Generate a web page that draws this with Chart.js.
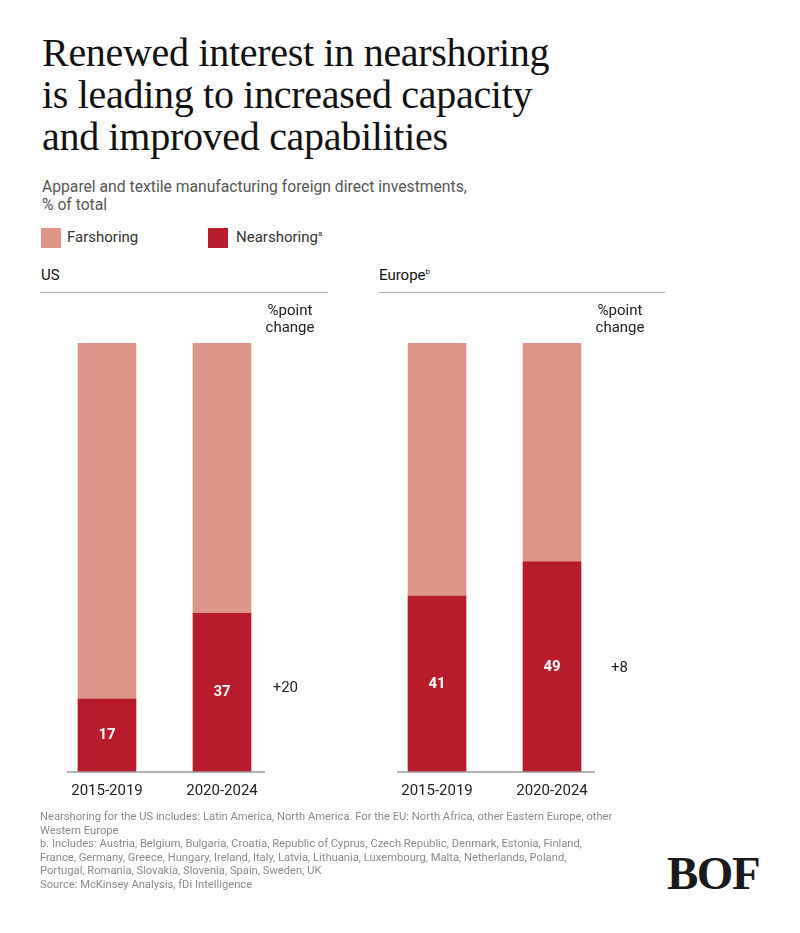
<!DOCTYPE html>
<html>
<head>
<meta charset="utf-8">
<script src="https://cdn.jsdelivr.net/npm/chart.js@4"></script>
<style>
  body { margin: 0; background: #fff; width: 800px; height: 933px; position: relative; overflow: hidden; font-family: Roboto, "Noto Sans", sans-serif; color: #222; }
  .abs { position: absolute; }
  h1 { position: absolute; left: 42px; top: 32px; margin: 0; font-family: "Liberation Serif", "DejaVu Serif", serif; font-weight: normal; font-size: 40px; line-height: 42px; color: #111; letter-spacing: -0.3px; }
  .sub { left: 42px; top: 178px; font-size: 15.7px; line-height: 18px; color: #555; }
  .sw { width: 20px; height: 20px; }
  .leg { font-size: 15px; color: #333; }
  .panel { font-size: 15px; color: #111; }
  .rule { height: 1px; background: #aaa; }
  sup { font-size: 8px; vertical-align: 6px; }
  .foot { left: 40px; top: 810px; font-size: 11.2px; line-height: 13.6px; color: #8a8a8a; white-space: nowrap; font-family: "Liberation Sans Narrow", Roboto, sans-serif; }
  .logo { left: 667px; top: 848px; font-family: "Liberation Serif", serif; font-weight: bold; font-size: 47px; line-height: 50px; color: #1a1a1a; letter-spacing: -1.5px; }
</style>
</head>
<body>
<h1>Renewed interest in nearshoring<br>is leading to increased capacity<br>and improved capabilities</h1>
<div class="abs sub">Apparel and textile manufacturing foreign direct investments,<br>% of total</div>

<div class="abs sw" style="left:41px;top:228px;background:#dd9588"></div>
<div class="abs leg" style="left:67px;top:228px">Farshoring</div>
<div class="abs sw" style="left:208px;top:228px;background:#b81c2b"></div>
<div class="abs leg" style="left:236px;top:228px">Nearshoring<sup>a</sup></div>

<div class="abs panel" style="left:41px;top:266px">US</div>
<div class="abs rule" style="left:40px;top:292px;width:288px"></div>
<div class="abs panel" style="left:379px;top:266px">Europe<sup>b</sup></div>
<div class="abs rule" style="left:379px;top:292px;width:286px"></div>

<div class="abs" style="left:40px;top:300px;width:290px;height:513px"><canvas id="usChart"></canvas></div>
<div class="abs" style="left:370px;top:300px;width:290px;height:513px"><canvas id="euChart"></canvas></div>

<div class="abs foot">Nearshoring for the US includes: Latin America, North America. For the EU: North Africa, other Eastern Europe, other<br>Western Europe<br>b. Includes: Austria, Belgium, Bulgaria, Croatia, Republic of Cyprus, Czech Republic, Denmark, Estonia, Finland,<br>France, Germany, Greece, Hungary, Ireland, Italy, Latvia, Lithuania, Luxembourg, Malta, Netherlands, Poland,<br>Portugal, Romania, Slovakia, Slovenia, Spain, Sweden, UK<br>Source: McKinsey Analysis, fDi Intelligence</div>
<div class="abs logo">BOF</div>

<script>
const periods = ['2015-2019', '2020-2024'];
const usNear = [17, 37];
const usFar = [83, 63];
const euNear = [41, 49];
const euFar = [59, 51];
const usChange = '+20';
const usChangeAt = 19.6;
const euChange = '+8';
const euChangeAt = 24.2;

const farColor = '#dd9588';
const nearColor = '#b81c2b';

const annotate = {
    id: 'annotate',
    afterDatasetsDraw(chart, args, opts) {
        const { ctx, chartArea } = chart;
        const y = chart.scales.y;
        const meta = chart.getDatasetMeta(0);
        const first = meta.data[0];
        const last = meta.data[meta.data.length - 1];
        ctx.save();

        // values inside the nearshoring segments
        ctx.font = 'bold 15px Roboto';
        ctx.fillStyle = '#fff';
        ctx.textAlign = 'center';
        ctx.textBaseline = 'middle';
        meta.data.forEach((bar, i) => {
            const v = chart.data.datasets[0].data[i];
            ctx.fillText(v, bar.x, y.getPixelForValue(v / 2));
        });

        // baseline
        ctx.strokeStyle = '#999';
        ctx.lineWidth = 1.5;
        ctx.beginPath();
        ctx.moveTo(first.x - first.width / 2 - 11, chartArea.bottom);
        ctx.lineTo(last.x + last.width / 2 + 14, chartArea.bottom);
        ctx.stroke();

        // %point change column
        const edge = last.x + last.width / 2;
        ctx.fillStyle = '#222';
        ctx.font = '15px Roboto';
        ctx.fillText('%point', edge + 39, chartArea.top - 32);
        ctx.fillText('change', edge + 39, chartArea.top - 15);
        ctx.textAlign = 'right';
        ctx.fillText(opts.change, edge + 47, y.getPixelForValue(opts.changeAt));
        ctx.restore();
    }
};

function makeChart(id, near, far, change, changeAt) {
    return new Chart(document.getElementById(id).getContext('2d'), {
        type: 'bar',
        data: {
            labels: periods,
            datasets: [
                { label: 'Nearshoring', data: near, backgroundColor: nearColor, barThickness: 58 },
                { label: 'Farshoring', data: far, backgroundColor: farColor, barThickness: 58 }
            ]
        },
        options: {
            responsive: true,
            maintainAspectRatio: false,
            animation: false,
            layout: { padding: { left: 9.5, right: 50.5, top: 43, bottom: 3 } },
            plugins: {
                legend: { display: false },
                tooltip: { enabled: false },
                annotate: { change: change, changeAt: changeAt }
            },
            scales: {
                x: {
                    stacked: true,
                    grid: { display: false, drawTicks: false },
                    border: { display: false },
                    ticks: { color: '#222', font: { family: 'Roboto', size: 15 }, padding: 10 }
                },
                y: {
                    stacked: true,
                    display: false,
                    min: 0,
                    max: 100
                }
            }
        },
        plugins: [annotate]
    });
}

makeChart('usChart', usNear, usFar, usChange, usChangeAt);
makeChart('euChart', euNear, euFar, euChange, euChangeAt);
</script>
</body>
</html>
